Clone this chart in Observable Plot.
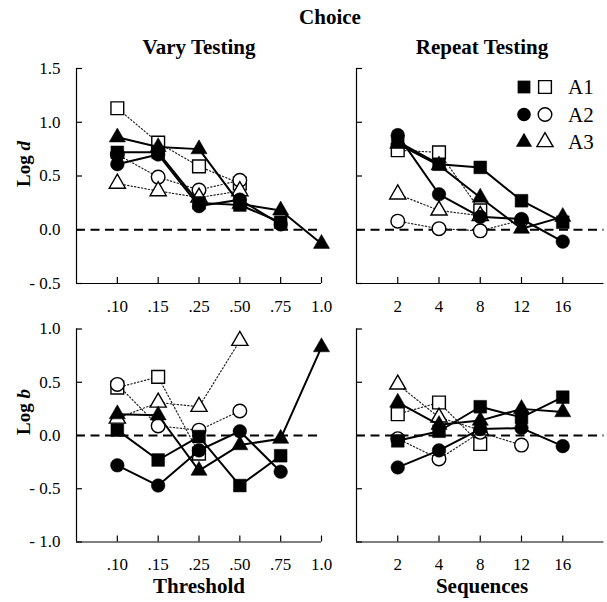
<!DOCTYPE html>
<html>
<head>
<meta charset="utf-8">
<script src="https://cdn.jsdelivr.net/npm/d3@7"></script>
<script src="https://cdn.jsdelivr.net/npm/@observablehq/plot@0.6"></script>
<style>
  html, body { margin: 0; padding: 0; background: #fff; }
  #root { position: relative; width: 607px; height: 602px; font-family: "Liberation Serif", "DejaVu Serif", serif; }
  #root svg.plot { position: absolute; left: 0; top: 0; }
  .t { position: absolute; transform: translate(-50%, -50%); font-weight: bold; font-size: 21px; white-space: nowrap; color: #000; }
  .ylab { position: absolute; transform: translate(-50%, -50%) rotate(-90deg); font-weight: bold; font-size: 19px; white-space: nowrap; }
  #legend { position: absolute; left: 510px; top: 72px; }
</style>
</head>
<body>
<div id="root"></div>
<script>
// ---- tick labels ----
const thresholdLabels = [".10", ".15", ".25", ".50", ".75", "1.0"];
const sequenceLabels = ["2", "4", "8", "12", "16"];
const groups = ["A1", "A2", "A3"];
const dTicks = [1.5, 1.0, 0.5, 0.0, -0.5];
const bTicks = [1.0, 0.5, 0.0, -0.5, -1.0];

// ---- Vary Testing, Log d ----
const varyD_A1_filled = [0.72, 0.72, 0.25, 0.23, 0.07];
const varyD_A2_filled = [0.61, 0.70, 0.22, 0.28, 0.05];
const varyD_A3_filled = [0.86, 0.77, 0.75, 0.24, 0.18, -0.13];
const varyD_A1_open = [1.13, 0.81, 0.59, 0.43];
const varyD_A2_open = [0.70, 0.49, 0.37, 0.46];
const varyD_A3_open = [0.43, 0.36, 0.30, 0.36];

// ---- Repeat Testing, Log d ----
const repD_A1_filled = [0.82, 0.61, 0.58, 0.27, 0.07];
const repD_A2_filled = [0.88, 0.33, 0.12, 0.10, -0.11];
const repD_A3_filled = [0.80, 0.60, 0.30, 0.01, 0.12];
const repD_A1_open = [0.74, 0.72, 0.18];
const repD_A2_open = [0.08, 0.01, -0.01, 0.09];
const repD_A3_open = [0.33, 0.18, 0.13];

// ---- Vary Testing, Log b ----
const varyB_A1_filled = [0.05, -0.23, -0.01, -0.47, -0.19];
const varyB_A2_filled = [-0.28, -0.47, -0.14, 0.04, -0.34];
const varyB_A3_filled = [0.20, 0.19, -0.33, -0.09, -0.03, 0.83];
const varyB_A1_open = [0.45, 0.55, -0.17];
const varyB_A2_open = [0.48, 0.09, 0.05, 0.23];
const varyB_A3_open = [0.16, 0.31, 0.27, 0.89];

// ---- Repeat Testing, Log b ----
const repB_A1_filled = [-0.05, 0.04, 0.27, 0.17, 0.36];
const repB_A2_filled = [-0.30, -0.14, 0.06, 0.07, -0.10];
const repB_A3_filled = [0.31, 0.10, 0.14, 0.25, 0.22];
const repB_A1_open = [0.20, 0.31, -0.08];
const repB_A2_open = [-0.03, -0.22, 0.03, -0.09];
const repB_A3_open = [0.48, 0.17, 0.05];

const W = 607, H = 602;
const symbols = {A1: "square", A2: "circle", A3: "triangle"};
const radius = {A1: 7.2, A2: 6.8, A3: 6};

function rows(arr, g) { return arr.map((v, i) => ({g, i, v})); }

function panel({labels, filled, open, yDomain, yTicks, x0, x1, y0, y1, showY}) {
  const n = labels.length;
  const idx = d3.range(n);
  const fw = x1 - x0, fh = y1 - y0;
  const filledRows = groups.flatMap((g, k) => rows(filled[k], g));
  const openRows = groups.flatMap((g, k) => rows(open[k], g));
  const fmt = d => d < 0 ? "- " + Math.abs(d).toFixed(1) : d.toFixed(1);
  const marks = [
    Plot.ruleY([0], {stroke: "#000", strokeWidth: 1.8, strokeDasharray: "9,5.5"}),
    Plot.ruleX([-1], {stroke: "#000", strokeWidth: 1.2}),
    Plot.ruleY([yDomain[0]], {stroke: "#000", strokeWidth: 1.2}),
    Plot.tickY(yTicks, {y: d => d, stroke: "#000", strokeWidth: 1.2, insetRight: fw - 6}),
    Plot.tickX(idx, {x: d => d, stroke: "#000", strokeWidth: 1.2, insetTop: fh - 6}),
    Plot.line(openRows, {x: "i", y: "v", z: "g", stroke: "#222", strokeWidth: 1.2, strokeDasharray: "1.3,2.2"}),
    ...groups.map(g => Plot.dot(openRows.filter(d => d.g === g), {x: "i", y: "v", symbol: symbols[g], r: radius[g], fill: "#fff", stroke: "#000", strokeWidth: 1.4})),
    Plot.line(filledRows, {x: "i", y: "v", z: "g", stroke: "#000", strokeWidth: 2}),
    ...groups.map(g => Plot.dot(filledRows.filter(d => d.g === g), {x: "i", y: "v", symbol: symbols[g], r: radius[g], fill: "#000", stroke: "#000", strokeWidth: 0.5}))
  ];
  return Plot.plot({
    width: W, height: H,
    marginLeft: x0, marginRight: W - x1, marginTop: y0, marginBottom: H - y1,
    style: {background: "transparent", fontFamily: "Liberation Serif, serif", fontSize: "17px", color: "#000"},
    x: {domain: [-1, 5], ticks: idx, tickFormat: i => labels[i], tickSize: 0, tickPadding: 16, label: null},
    y: showY
      ? {domain: yDomain, ticks: yTicks, tickFormat: fmt, tickSize: 0, tickPadding: 16, label: null}
      : {domain: yDomain, axis: null},
    marks
  });
}

const root = document.getElementById("root");
const LX0 = 76, LX1 = 321, RX0 = 356, RX1 = 603.5;
const TY0 = 68, TY1 = 283, BY0 = 328.5, BY1 = 541.5;

const panels = [
  panel({labels: thresholdLabels, filled: [varyD_A1_filled, varyD_A2_filled, varyD_A3_filled], open: [varyD_A1_open, varyD_A2_open, varyD_A3_open], yDomain: [-0.5, 1.5], yTicks: dTicks, x0: LX0, x1: LX1, y0: TY0, y1: TY1, showY: true}),
  panel({labels: sequenceLabels, filled: [repD_A1_filled, repD_A2_filled, repD_A3_filled], open: [repD_A1_open, repD_A2_open, repD_A3_open], yDomain: [-0.5, 1.5], yTicks: dTicks, x0: RX0, x1: RX1, y0: TY0, y1: TY1, showY: false}),
  panel({labels: thresholdLabels, filled: [varyB_A1_filled, varyB_A2_filled, varyB_A3_filled], open: [varyB_A1_open, varyB_A2_open, varyB_A3_open], yDomain: [-1, 1], yTicks: bTicks, x0: LX0, x1: LX1, y0: BY0, y1: BY1, showY: true}),
  panel({labels: sequenceLabels, filled: [repB_A1_filled, repB_A2_filled, repB_A3_filled], open: [repB_A1_open, repB_A2_open, repB_A3_open], yDomain: [-1, 1], yTicks: bTicks, x0: RX0, x1: RX1, y0: BY0, y1: BY1, showY: false})
];
panels.forEach(p => { p.classList.add("plot"); root.appendChild(p); });

function addText(cls, html, x, y) {
  const d = document.createElement("div");
  d.className = cls; d.innerHTML = html;
  d.style.left = x + "px"; d.style.top = y + "px";
  root.appendChild(d);
}
addText("t", "Choice", 330, 17);
addText("t", "Vary Testing", 199, 47);
addText("t", "Repeat Testing", 482, 47);
addText("t", "Threshold", 199, 586);
addText("t", "Sequences", 482, 586);
addText("ylab", "Log <i>d</i>", 24, 164);
addText("ylab", "Log <i>b</i>", 24, 412);

// legend
const leg = d3.select(root).append("svg").attr("id", "legend").attr("width", 95).attr("height", 85);
groups.forEach((g, k) => {
  const cy = 15 + k * 27.5;
  const shape = g === "A1" ? d3.symbolSquare : g === "A2" ? d3.symbolCircle : d3.symbolTriangle;
  const size = Math.PI * radius[g] * radius[g];
  leg.append("path").attr("d", d3.symbol(shape, size)()).attr("transform", `translate(14,${cy})`).attr("fill", "#000");
  leg.append("path").attr("d", d3.symbol(shape, size)()).attr("transform", `translate(35,${cy})`).attr("fill", "#fff").attr("stroke", "#000").attr("stroke-width", 1.4);
  leg.append("text").attr("x", 58).attr("y", cy).attr("dy", "0.35em").attr("font-family", "Liberation Serif, serif").attr("font-size", 21).text(g);
});
</script>
</body>
</html>
